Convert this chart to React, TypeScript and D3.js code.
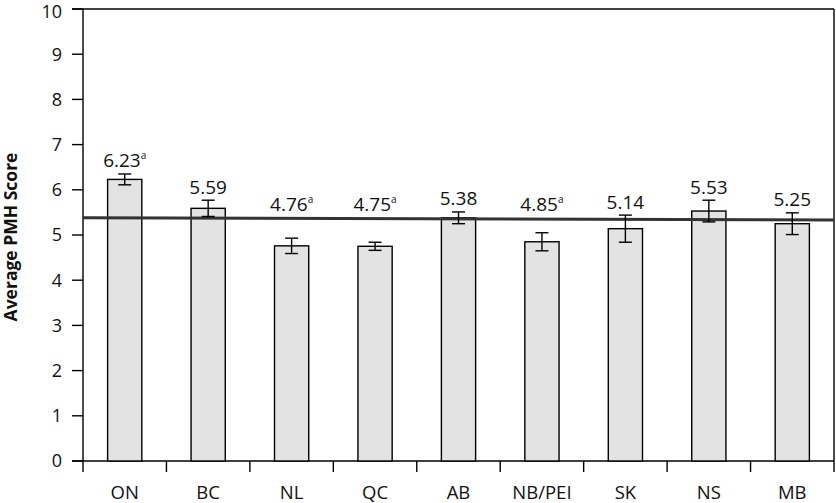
import React from "react";
import * as d3 from "d3";

const categories = ["ON", "BC", "NL", "QC", "AB", "NB/PEI", "SK", "NS", "MB"];
const values = [6.23, 5.59, 4.76, 4.75, 5.38, 4.85, 5.14, 5.53, 5.25];
const errors = [0.12, 0.18, 0.17, 0.09, 0.13, 0.2, 0.3, 0.24, 0.24];
const flags = ["a", "", "a", "a", "", "a", "", "", ""];
const yTicks = [0, 1, 2, 3, 4, 5, 6, 7, 8, 9, 10];
const refLine = [5.38, 5.33];

const W = 836;
const H = 503;
const M = { left: 83, right: 2, top: 9, bottom: 42 };

export default function App() {
  const x = d3
    .scaleBand<string>()
    .domain(categories)
    .range([M.left, W - M.right])
    .paddingInner(0)
    .paddingOuter(0);
  const y = d3.scaleLinear().domain([0, 10]).range([H - M.bottom, M.top]);
  const bw = x.bandwidth() * 0.41;
  const font = "'Open Sans', 'Noto Sans', sans-serif";
  const yLineLeft = y(refLine[0]);
  const x0 = M.left;
  const x1 = W - M.right;
  const y0 = y(0);

  return (
    <div style={{ position: "absolute", left: 0, top: 0 }}>
      <svg width={W} height={H} style={{ display: "block" }}>
        <rect x={0} y={0} width={W} height={H} fill="#fff" />
        {/* frame */}
        <line x1={72} x2={x1} y1={y(10)} y2={y(10)} stroke="#000" strokeWidth={1.4} />
        <line x1={x1} x2={x1} y1={y(10)} y2={y0} stroke="#000" strokeWidth={1.4} />
        <line x1={x0} x2={x0} y1={y(10)} y2={y0} stroke="#000" strokeWidth={1.4} />
        {/* y ticks */}
        {yTicks.map((t) => (
          <g key={t}>
            <line x1={72} x2={x0} y1={y(t)} y2={y(t)} stroke="#000" strokeWidth={1.4} />
            <text
              x={62}
              y={y(t) + (t === 10 ? 2.5 : 0)}
              dy="0.36em"
              textAnchor="end"
              fontFamily={font}
              fontSize={18}
              fill="#111"
            >
              {t}
            </text>
          </g>
        ))}
        {/* x axis */}
        <line x1={72} x2={x1} y1={y0} y2={y0} stroke="#000" strokeWidth={1.4} />
        {categories.map((c) => (
          <line
            key={"t" + c}
            x1={x(c)!}
            x2={x(c)!}
            y1={y0}
            y2={y0 + 11}
            stroke="#000"
            strokeWidth={1.4}
          />
        ))}
        <line x1={x1} x2={x1} y1={y0} y2={y0 + 11} stroke="#000" strokeWidth={1.4} />
        {categories.map((c) => (
          <text
            key={"l" + c}
            x={x(c)! + x.bandwidth() / 2}
            y={498.5}
            textAnchor="middle"
            fontFamily={font}
            fontSize={18.5}
            fill="#111"
          >
            {c}
          </text>
        ))}
        {/* bars */}
        {categories.map((c, i) => {
          const cx = x(c)! + x.bandwidth() / 2;
          return (
            <rect
              key={"b" + c}
              x={cx - bw / 2}
              y={y(values[i])}
              width={bw}
              height={y0 - y(values[i])}
              fill="#e3e3e3"
              stroke="#000"
              strokeWidth={1.4}
            />
          );
        })}
        {/* reference line */}
        <line
          x1={x0}
          x2={x1}
          y1={yLineLeft}
          y2={y(refLine[1])}
          stroke="#333"
          strokeWidth={3}
        />
        {/* error bars */}
        {categories.map((c, i) => {
          const cx = x(c)! + x.bandwidth() / 2;
          const hi = y(values[i] + errors[i]);
          const lo = y(values[i] - errors[i]);
          return (
            <g key={"e" + c} stroke="#000" strokeWidth={1.4}>
              <line x1={cx} x2={cx} y1={hi} y2={lo} />
              <line x1={cx - 6.5} x2={cx + 6.5} y1={hi} y2={hi} />
              <line x1={cx - 6.5} x2={cx + 6.5} y1={lo} y2={lo} />
            </g>
          );
        })}
        {/* value labels */}
        {categories.map((c, i) => {
          const cx = x(c)! + x.bandwidth() / 2;
          const hi = y(values[i] + errors[i]);
          const ly = Math.min(hi, yLineLeft) - 6.5;
          return (
            <text
              key={"v" + c}
              x={cx}
              y={ly}
              textAnchor="middle"
              fontFamily={font}
              fontSize={19}
              fill="#111"
            >
              {values[i].toFixed(2)}
              {flags[i] ? (
                <tspan fontSize={10} dy={-8}>
                  {flags[i]}
                </tspan>
              ) : null}
            </text>
          );
        })}
        {/* y title */}
        <text
          transform={`translate(16.5,${(y(0) + y(10)) / 2 + 2}) rotate(-90)`}
          textAnchor="middle"
          fontFamily={font}
          fontWeight="bold"
          fontSize={17.5}
          fill="#111"
        >
          Average PMH Score
        </text>
      </svg>
    </div>
  );
}
